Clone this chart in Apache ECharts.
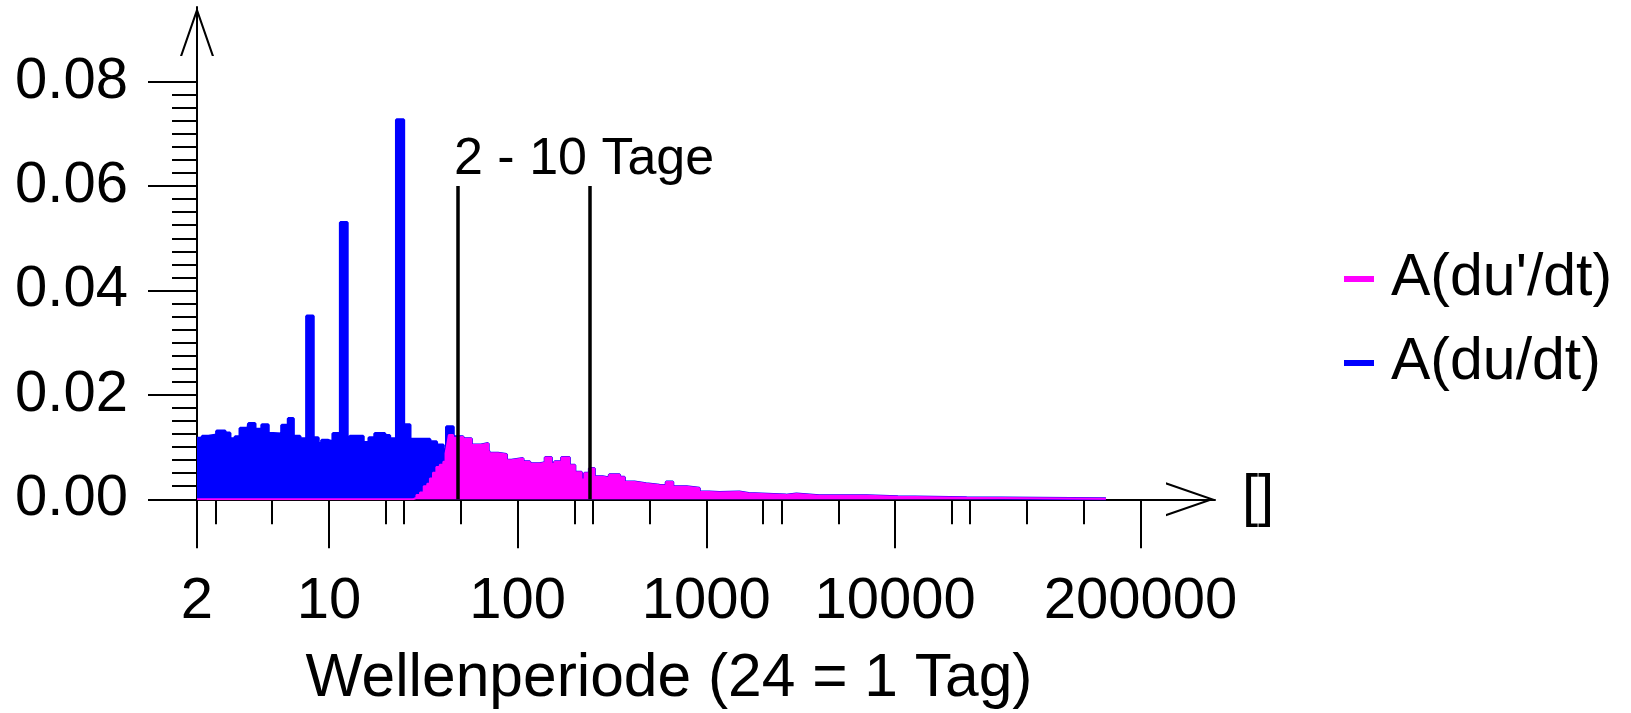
<!DOCTYPE html>
<html><head><meta charset="utf-8">
<script src="https://cdn.jsdelivr.net/npm/echarts@6/dist/echarts.min.js"></script>
<style>html,body{margin:0;padding:0;background:#fff}#c{width:1631px;height:713px}</style>
</head><body><div id="c"></div>
<script>
const FONT = 'Liberation Sans, Arial, Helvetica, sans-serif';

// Tick positions / labels
const xMajorTicks = [2, 10, 100, 1000, 10000, 200000];
const xMinorTicks = [2.5, 5, 20, 25, 50, 200, 250, 500, 2000, 2500, 5000, 20000, 25000, 50000, 100000];
const yMajorTicks = [0, 0.02, 0.04, 0.06, 0.08];
const yMinorTicks = [0.0025, 0.005, 0.0075, 0.01, 0.0125, 0.015, 0.0175,
  0.0225, 0.025, 0.0275, 0.03, 0.0325, 0.035, 0.0375,
  0.0425, 0.045, 0.0475, 0.05, 0.0525, 0.055, 0.0575,
  0.0625, 0.065, 0.0675, 0.07, 0.0725, 0.075, 0.0775];

// "2 - 10 Tage" markers (periods in hours)
const markPeriods = [48, 240];
const markTop = 0.06;

// A(du/dt) – blue (period, amplitude), stepped
const bluePeriods = [2.0, 2.13, 2.30, 2.54, 2.82, 2.99, 3.18, 3.38, 3.70, 3.75,
  4.06, 4.41, 4.77, 5.08, 5.62, 6.09, 6.48, 7.03, 7.62, 8.26,
  8.78, 9.15, 9.92, 10.5, 11.5, 12.5, 12.9, 15.2, 16.3, 17.5,
  19.8, 21.0, 22.8, 24.9, 26.9, 34.3, 37.2, 40.4, 42.0, 45.6,
  48, 51.4, 56.9, 64.1, 69.8, 71.1, 78.7, 87.3, 92.8, 106.8,
  116, 131, 140, 151, 157, 171, 188, 201, 218, 226,
  240, 255, 282, 306, 347, 368, 416, 479, 564, 613,
  664, 786, 918, 1036, 1172, 1496, 1674, 2640, 3000, 3966,
  7070, 10350, 23950, 131000];
const blueValues = [0.0117, 0.0121, 0.0123, 0.0131, 0.0127, 0.0116, 0.0120, 0.0136, 0.0127, 0.0145,
  0.0134, 0.0143, 0.0126, 0.0125, 0.0142, 0.0155, 0.0121, 0.0116, 0.0351, 0.0118,
  0.0107, 0.0113, 0.0110, 0.0126, 0.0530, 0.0111, 0.0121, 0.0109, 0.0118, 0.0126,
  0.0122, 0.0116, 0.0727, 0.0143, 0.0115, 0.0110, 0.0104, 0.0095, 0.0139, 0.0120,
  0.0120, 0.0116, 0.0104, 0.0107, 0.0095, 0.0088, 0.0086, 0.0075, 0.0078, 0.0072,
  0.0068, 0.0070, 0.0080, 0.0068, 0.0072, 0.0080, 0.0065, 0.0052, 0.0038, 0.0050,
  0.0059, 0.0043, 0.0041, 0.0047, 0.0042, 0.0033, 0.0030, 0.0027, 0.0026, 0.0033,
  0.0024, 0.0021, 0.0014, 0.0013, 0.0014, 0.0011, 0.0008, 0.0010, 0.0007, 0.0007,
  0.0005, 0.0003, 0.0001, 0.0001];

// A(du'/dt) – magenta (period, amplitude), stepped
const magentaPeriods = [2, 27.9, 29.1, 30.4, 31.8, 33.2, 34.3, 35.6, 37.1, 38.7,
  40.4, 41.5, 42.2, 43.2, 45.5, 48, 51.4, 56.9, 64.1, 69.8,
  71.1, 78.7, 87.3, 92.8, 106.8, 116, 131, 140, 151, 157,
  171, 188, 201, 218, 226, 240, 255, 282, 306, 347,
  368, 416, 479, 564, 613, 664, 786, 918, 1036, 1172,
  1496, 1674, 2640, 3000, 3966, 7070, 10350, 23950, 131000];
const magentaValues = [0, 0.0003, 0.0008, 0.0013, 0.0025, 0.0030, 0.0040, 0.0051, 0.0062, 0.0066,
  0.0072, 0.0088, 0.0102, 0.0123, 0.0118, 0.0120, 0.0116, 0.0104, 0.0107, 0.0095,
  0.0088, 0.0086, 0.0075, 0.0078, 0.0072, 0.0068, 0.0070, 0.0080, 0.0068, 0.0072,
  0.0080, 0.0065, 0.0052, 0.0038, 0.0050, 0.0059, 0.0043, 0.0041, 0.0047, 0.0042,
  0.0033, 0.0030, 0.0027, 0.0026, 0.0033, 0.0024, 0.0021, 0.0014, 0.0013, 0.0014,
  0.0011, 0.0008, 0.0010, 0.0007, 0.0007, 0.0005, 0.0003, 0.0001, 0.0001];

const X_MIN = 2, X_MAX = 495800, Y_MIN = 0, Y_MAX = 0.0943;
const ARROW = 'path://M0,49L17,0L34,49L31.8,49L17,6.2L2.2,49Z';

function pairs(xs, ys) { return xs.map((x, i) => [x, ys[i]]); }

const chart = echarts.init(document.getElementById('c'), null, {renderer: 'canvas'});
const axisLineStyle = {color: '#000', width: 2};

chart.setOption({
  animation: false,
  backgroundColor: '#fff',
  textStyle: {fontFamily: FONT},
  grid: {left: 197, top: 7, right: 416, bottom: 213.7, containLabel: false},
  legend: {
    orient: 'vertical', left: 1344, top: 249, padding: 0,
    itemWidth: 30, itemHeight: 6, itemGap: 24, icon: 'rect',
    data: [{name: "A(du'/dt)", itemStyle: {color: '#ff00ff'}}, {name: 'A(du/dt)', itemStyle: {color: '#0000ff'}}],
    textStyle: {fontSize: 59, color: '#000', fontFamily: FONT, lineHeight: 60, padding: [0, 0, 0, 12]}
  },
  xAxis: [{
    type: 'log', logBase: 10, min: X_MIN, max: X_MAX, position: 'bottom',
    axisLine: {show: true, lineStyle: axisLineStyle, symbol: ['none', ARROW], symbolSize: [34, 49], symbolOffset: [0, -24.5]},
    axisTick: {show: true, length: 49, lineStyle: {color: '#000', width: 2}, customValues: xMajorTicks},
    axisLabel: {show: true, customValues: xMajorTicks, formatter: v => String(Math.round(v)), fontSize: 58, color: '#000', margin: 74, lineHeight: 58, fontFamily: FONT},
    splitLine: {show: false}, minorTick: {show: false}, minorSplitLine: {show: false},
    name: '[]', nameLocation: 'end', nameGap: 27,
    nameTextStyle: {fontSize: 58, color: '#000', fontFamily: FONT, verticalAlign: 'middle', align: 'left'}
  }, {
    type: 'log', logBase: 10, min: X_MIN, max: X_MAX, position: 'bottom',
    axisLine: {show: false},
    axisTick: {show: true, length: 25, lineStyle: {color: '#000', width: 2}, customValues: xMinorTicks},
    axisLabel: {show: false}, splitLine: {show: false}
  }],
  yAxis: [{
    type: 'value', min: Y_MIN, max: Y_MAX, position: 'left',
    axisLine: {show: true, lineStyle: axisLineStyle, symbol: ['none', ARROW], symbolSize: [34, 49], symbolOffset: [0, -24.5]},
    axisTick: {show: true, length: 49, lineStyle: {color: '#000', width: 2}, customValues: yMajorTicks},
    axisLabel: {show: true, customValues: yMajorTicks, formatter: v => v.toFixed(2), fontSize: 58, color: '#000', margin: 69, fontFamily: FONT},
    splitLine: {show: false}
  }, {
    type: 'value', min: Y_MIN, max: Y_MAX, position: 'left',
    axisLine: {show: false},
    axisTick: {show: true, length: 25, lineStyle: {color: '#000', width: 2}, customValues: yMinorTicks},
    axisLabel: {show: false}, splitLine: {show: false}
  }],
  graphic: [
    {type: 'text', x: 454, y: 160, z: 100,
     style: {text: '2 - 10 Tage', fontSize: 52, fontFamily: FONT, fill: '#000', align: 'left', verticalAlign: 'middle'}},
    {type: 'text', x: 669, y: 679, z: 100,
     style: {text: 'Wellenperiode (24 = 1 Tag)', fontSize: 60.5, fontFamily: FONT, fill: '#000', align: 'center', verticalAlign: 'middle'}}
  ],
  series: [{
    name: 'A(du/dt)', type: 'line', xAxisIndex: 0, yAxisIndex: 0,
    data: pairs(bluePeriods, blueValues), step: 'end', symbol: 'none', showSymbol: false,
    color: '#0000ff', lineStyle: {width: 3, color: '#0000ff'}, areaStyle: {color: '#0000ff', opacity: 1}, z: 2
  }, {
    name: "A(du'/dt)", type: 'line', xAxisIndex: 0, yAxisIndex: 0,
    data: pairs(magentaPeriods, magentaValues), step: 'end', symbol: 'none', showSymbol: false,
    color: '#ff00ff', lineStyle: {width: 2, color: '#ff00ff'}, areaStyle: {color: '#ff00ff', opacity: 1}, z: 3,
    markLine: {
      silent: true, symbol: ['none', 'none'], label: {show: false},
      lineStyle: {color: '#000', width: 3.5, type: 'solid'},
      data: markPeriods.map(p => [{coord: [p, 0]}, {coord: [p, markTop]}])
    }
  }]
});
</script>
</body></html>
